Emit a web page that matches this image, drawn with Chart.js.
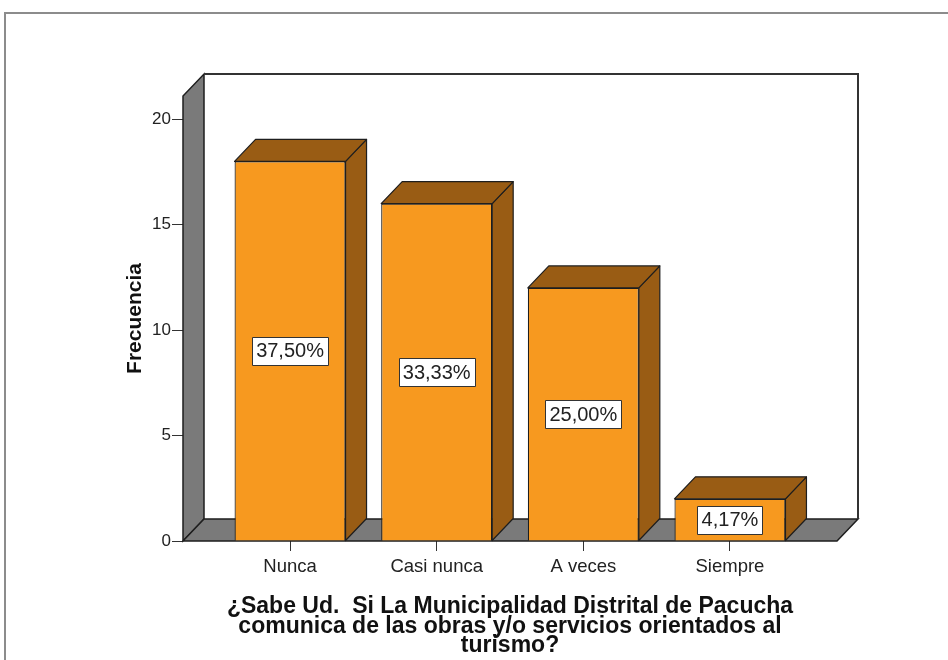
<!DOCTYPE html>
<html><head><meta charset="utf-8">
<script src="https://cdn.jsdelivr.net/npm/chart.js@4"></script>
<style>html,body{margin:0;padding:0;background:#fff;} canvas{display:block;}</style>
</head><body>
<canvas id="c" width="948" height="660"></canvas>
<script>
const categories = ['Nunca', 'Casi nunca', 'A veces', 'Siempre'];
const frequencies = [18, 16, 12, 2];
const percentLabels = ['37,50%', '33,33%', '25,00%', '4,17%'];
const xTitle = ['¿Sabe Ud.  Si La Municipalidad Distrital de Pacucha', 'comunica de las obras y/o servicios orientados al', 'turismo?'];
const yTitle = 'Frecuencia';

const FONT = '"Liberation Sans", Arial, sans-serif';
const DX = 21, DY = 22;
const FRONT = '#f7991f', SIDE = '#995c14', WALL = '#7a7a7a', EDGE = '#1e1e1e';

function poly(ctx, pts, fill, stroke, lw) {
  ctx.beginPath();
  ctx.moveTo(pts[0][0], pts[0][1]);
  for (let i = 1; i < pts.length; i++) ctx.lineTo(pts[i][0], pts[i][1]);
  ctx.closePath();
  if (fill) { ctx.fillStyle = fill; ctx.fill(); }
  if (stroke) { ctx.strokeStyle = stroke; ctx.lineWidth = lw; ctx.stroke(); }
}

const plugin3d = {
  id: 'spss3d',
  beforeDraw(chart) {
    const ctx = chart.ctx;
    ctx.save();
    ctx.fillStyle = '#fff';
    ctx.fillRect(0, 0, chart.width, chart.height);
    ctx.strokeStyle = '#8c8c8c';
    ctx.lineWidth = 2;
    ctx.strokeRect(5, 13, chart.width + 20, chart.height + 20);
    ctx.restore();
  },
  beforeDatasetsDraw(chart) {
    const { ctx, chartArea: { left, right, top, bottom } } = chart;
    ctx.save();
    ctx.fillStyle = '#fff';
    ctx.fillRect(left + DX, top - DY, right - left, bottom - top);
    poly(ctx, [[left, bottom], [left, top], [left + DX, top - DY], [left + DX, bottom - DY]], WALL, EDGE, 1.5);
    poly(ctx, [[left, bottom], [left + DX, bottom - DY], [right + DX, bottom - DY], [right, bottom]], WALL, EDGE, 1.5);
    ctx.strokeStyle = '#333';
    ctx.lineWidth = 2;
    ctx.beginPath();
    ctx.moveTo(left + DX, top - DY);
    ctx.lineTo(right + DX, top - DY);
    ctx.lineTo(right + DX, bottom - DY);
    ctx.stroke();
    ctx.restore();
  },
  afterDatasetsDraw(chart) {
    const ctx = chart.ctx;
    const meta = chart.getDatasetMeta(0);
    ctx.save();
    ctx.lineJoin = 'round';
    meta.data.forEach((bar, i) => {
      const { x, y, base, width } = bar.getProps(['x', 'y', 'base', 'width'], true);
      const l = x - width / 2, r = x + width / 2;
      poly(ctx, [[r, y], [r + DX, y - DY], [r + DX, base - DY], [r, base]], SIDE, EDGE, 1.2);
      poly(ctx, [[l, y], [l + DX, y - DY], [r + DX, y - DY], [r, y]], SIDE, EDGE, 1.2);
      const t = percentLabels[i];
      ctx.font = '20px ' + FONT;
      const tw = ctx.measureText(t).width;
      const bw = Math.round(tw + 8), bh = 28;
      const cx = x, cy = (y + base) / 2;
      const bx = Math.round(cx - bw / 2) + 0.5, by = Math.round(cy - bh / 2) + 0.5;
      ctx.fillStyle = '#fff';
      ctx.fillRect(bx, by, bw, bh);
      ctx.strokeStyle = '#333';
      ctx.lineWidth = 1;
      ctx.strokeRect(bx, by, bw, bh);
      ctx.fillStyle = '#222';
      ctx.textAlign = 'center';
      ctx.textBaseline = 'middle';
      ctx.fillText(t, cx, cy + 1);
    });
    ctx.restore();
  }
};

new Chart(document.getElementById('c'), {
  type: 'bar',
  data: {
    datasets: [{
      data: categories.map((c, i) => ({ x: i + 1, y: frequencies[i] })),
      backgroundColor: FRONT,
      borderColor: EDGE,
      borderWidth: 1.2,
      barPercentage: 0.757,
      categoryPercentage: 1.0
    }]
  },
  options: {
    responsive: false,
    animation: false,
    devicePixelRatio: 1,
    layout: { padding: { left: 0, right: 111, top: 96, bottom: 0 } },
    plugins: { legend: { display: false }, tooltip: { enabled: false } },
    scales: {
      x: {
        type: 'linear', min: 0.27, max: 4.73, offset: false,
        afterFit(s) { s.height = 119; },
        grid: { display: true, offset: false, drawOnChartArea: false, drawTicks: true, tickLength: 10, color: '#333' },
        border: { display: false },
        ticks: {
          stepSize: 1, includeBounds: false, autoSkip: false, maxRotation: 0, padding: 5,
          color: '#222', font: { family: FONT, size: 18.5 },
          callback: (v) => (Number.isInteger(v) && categories[v - 1]) ? categories[v - 1] : ''
        },
        title: {
          display: true, text: xTitle, color: '#111',
          font: { family: FONT, size: 23, weight: 'bold', lineHeight: 0.86 },
          padding: { top: 0, bottom: 4 }
        }
      },
      y: {
        min: 0, max: 21.1,
        afterFit(s) { s.width = 183; },
        grid: { drawOnChartArea: false, tickLength: 11, color: '#333' },
        border: { display: false },
        ticks: { stepSize: 5, includeBounds: false, padding: 1, color: '#222', font: { family: FONT, size: 17 } },
        title: {
          display: true, text: yTitle, color: '#111',
          font: { family: FONT, size: 21, weight: 'bold', lineHeight: 1.2 },
          padding: { top: 123, bottom: 0 }
        }
      }
    }
  },
  plugins: [plugin3d]
});
</script>
</body></html>
